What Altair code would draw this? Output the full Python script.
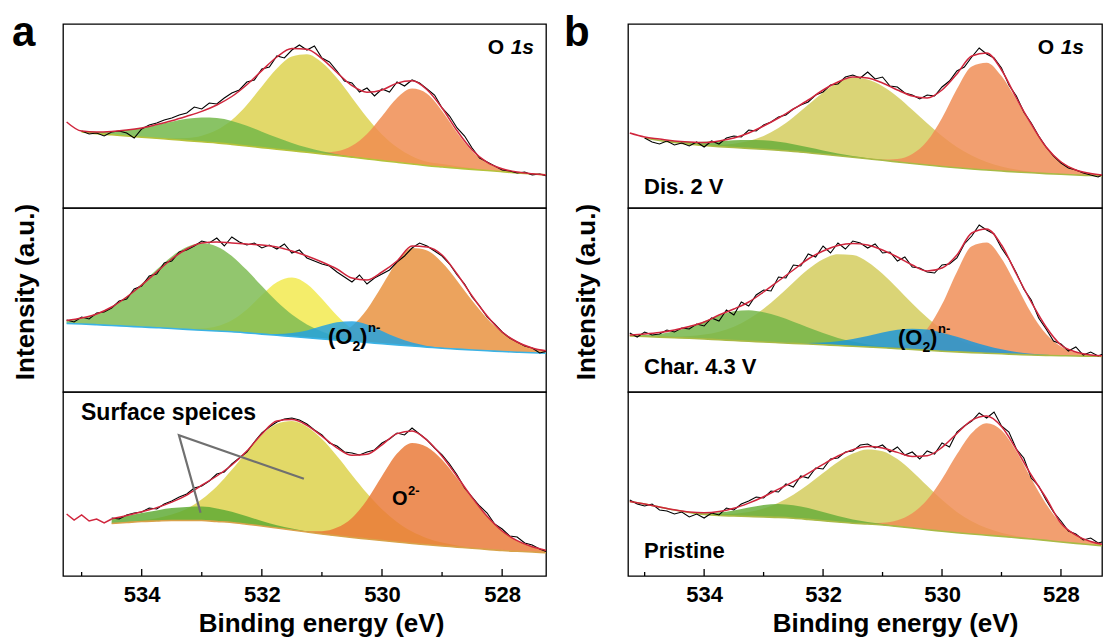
import altair as alt
import pandas as pd

FONT = "Liberation Sans"
H = 184
WA, WB = 483, 474
DOM_A = [527.27, 535.31]
DOM_B = [527.31, 535.28]

GRID = [535.25, 535.0, 534.75, 534.5, 534.25, 534.0, 533.75, 533.5, 533.25, 533.0,
        532.75, 532.5, 532.25, 532.0, 531.75, 531.5, 531.25, 531.0, 530.75, 530.5,
        530.25, 530.0, 529.75, 529.5, 529.25, 529.0, 528.75, 528.5, 528.25, 528.0,
        527.75, 527.5, 527.25]
RAW_GRID = [535.25, 535.125, 535.0, 534.875, 534.75, 534.625, 534.5, 534.375, 534.25, 534.125,
            534.0, 533.875, 533.75, 533.625, 533.5, 533.375, 533.25, 533.125, 533.0, 532.875,
            532.75, 532.625, 532.5, 532.375, 532.25, 532.125, 532.0, 531.875, 531.75, 531.625,
            531.5, 531.375, 531.25, 531.125, 531.0, 530.875, 530.75, 530.625, 530.5, 530.375,
            530.25, 530.125, 530.0, 529.875, 529.75, 529.625, 529.5, 529.375, 529.25, 529.125,
            529.0, 528.875, 528.75, 528.625, 528.5, 528.375, 528.25, 528.125, 528.0, 527.875,
            527.75, 527.625, 527.5, 527.375, 527.25]
TICK_MAJOR = [534, 532, 530, 528]
TICK_MINOR = [535, 533, 531, 529]

# ---------------- panel a, top ----------------
BASE_A1 = [86, 76, 74.3, 73.2, 72.0, 70.8, 69.7, 68.5, 67.4, 66.2, 65.1, 63.6, 62.0, 60.4, 58.8, 57.3, 55.7,
           54.1, 52.5, 50.8, 49.1, 47.4, 45.7, 44.0, 42.3, 41.0, 39.8, 38.6, 37.5, 36.3, 35.1, 34.0, 33.0]
ENV_A1 = [86, 76.9, 76.0, 76.6, 77.9, 80.0, 83.4, 87.2, 91.7, 96.6, 103.0, 111.5, 123.3, 137.4, 151.0, 159.4,
          158.8, 149.4, 135.5, 122.4, 115.8, 118.0, 124.9, 127.2, 118.3, 100.0, 77.2, 58.0, 45.7, 39.2, 35.9, 34.2, 33.0]
GREEN_A1 = [None, 0.9, 1.7, 3.4, 5.9, 9.1, 13.4, 17.8, 21.8, 24.3, 25.0, 23.5, 20.2, 15.9, 11.6, 7.8, 4.7, 2.7,
            1.3, 0.6, 0.3, 0, 0, 0, 0, 0, 0, 0, 0, 0, 0, 0, 0]
YELLOW_A1 = [None, 0, 0, 0, 0, 0.1, 0.3, 0.9, 2.5, 6.1, 12.9, 24.4, 41.1, 61.1, 80.6, 94.3, 98.0, 91.3, 77.4,
             59.5, 41.4, 26.2, 15.0, 7.8, 4.0, 3.0, 2.0, 1.2, 0.6, 0.3, 0.1, 0, 0]
ORANGE_A1 = [None, 0, 0, 0, 0, 0, 0, 0, 0, 0, 0, 0, 0, 0, 0, 0, 0.4, 1.3, 4.3, 11.5, 25.0, 44.4, 64.2, 75.4,
             72.0, 56.0, 35.4, 18.2, 7.6, 2.6, 0.7, 0.2, 0]
RAW_A1 = [77, 74, 75, 72, 76, 77, 75, 70, 79, 83, 85, 88, 90, 93, 95, 101, 99, 105, 104, 110,
          115, 118, 126, 128, 139, 141, 152, 150, 158, 163, 158, 162, 150, 146, 137, 127, 125, 116, 120, 112,
          119, 116, 126, 122, 128, 125, 119, 113, 100, 92, 80, 72, 60, 50, 46, 42, 38, 37, 35, 36, 33, 34, 32]

# ---------------- panel a, middle ----------------
BASE_A2 = [68.6, 68.0, 67.3, 66.5, 65.8, 65.0, 64.3, 63.5, 62.6, 61.8, 61.0, 60.2, 59.1, 57.9, 56.7, 55.5, 54.3,
           53.1, 51.9, 50.7, 49.5, 48.3, 47.1, 46.0, 44.9, 43.8, 42.9, 42.0, 41.2, 40.5, 39.8, 39.2, 38.7]
ENV_A2 = [71.5, 74, 78, 85, 95, 107, 120, 133, 143, 149, 150, 149, 148, 147, 145, 141, 136, 130, 123, 114,
          112, 120, 131, 146, 145, 137, 118, 96, 76, 60, 50, 44, 41]
GREEN_A2 = [2.9, 5.9, 11.0, 18.8, 29.7, 43.3, 58.2, 72.1, 82.4, 87.0, 84.6, 75.9, 62.8, 48.0, 33.8, 22.0, 13.2,
            7.3, 3.7, 1.7, 0.8, 0.3, 0, 0, 0, 0, 0, 0, 0, 0, 0, 0, 0]
YELLOW_A2 = [0, 0, 0, 0, 0, 0, 0, 0.2, 0.4, 1.6, 4.7, 11.6, 23.5, 39.0, 53.0, 59.0, 53.8, 40.2, 24.6, 12.4,
             5.1, 1.7, 0.5, 0, 0, 0, 0, 0, 0, 0, 0, 0, 0]
BLUE_A2 = [0, 0, 0, 0, 0, 0, 0, 0, 0, 0, 0, 0, 0, 0.4, 1.2, 3.4, 7.3, 12.8, 17.9, 20.0, 17.9, 12.8, 7.3, 3.4,
           1.2, 0.4, 0, 0, 0, 0, 0, 0, 0]
ORANGE_A2 = [0, 0, 0, 0, 0, 0, 0, 0, 0, 0, 0, 0, 0, 0, 0, 0, 0.5, 1.9, 5.9, 15.4, 33.0, 57.9, 83.2, 98.0, 96.7,
             85.6, 68.4, 49.4, 32.2, 18.9, 10.0, 4.8, 2.1]
RAW_A2 = [72, 70, 75, 73, 79, 80, 84, 91, 93, 103, 106, 116, 118, 129, 131, 140, 142, 146, 151, 149,
          154, 146, 155, 150, 147, 149, 144, 147, 143, 148, 139, 142, 134, 131, 128, 126, 120, 115, 110, 117,
          108, 114, 118, 122, 130, 136, 144, 149, 146, 141, 136, 128, 117, 108, 95, 86, 75, 68, 60, 54,
          50, 46, 44, 39, 41]

# ---------------- panel a, bottom ----------------
BASE_A3 = [62, 57, 53.5, 52.5, 53.5, 54.5, 55, 55.5, 55.5, 55.5, 54.5, 53.5, 51.8, 50, 48, 46, 44, 42, 40.2,
           38.5, 37, 35.5, 34, 32.5, 31.2, 30, 28.9, 27.8, 26.6, 25.5, 24.7, 24, 23.3]
ENV_A3 = [None, None, None, 57.2, 60.4, 64.2, 68.4, 73.9, 80.9, 90.8, 100, 111, 125, 142, 155, 156.4, 150.7,
          139.9, 128.2, 120.7, 121.8, 131.2, 142.4, 145, 135.7, 119.7, 99.5, 78.4, 59.7, 45, 35.3, 29.2, 25.6]
GREEN_A3 = [None, None, None, 4.5, 6.4, 8.5, 10.6, 12.4, 13.6, 14, 13.1, 10.8, 7.9, 5.0, 2.8, 1.4, 0.6, 0.2,
            0, 0, 0, 0, 0, 0, 0, 0, 0, 0, 0, 0, 0, 0, 0]
YELLOW_A3 = [None, None, None, 0.2, 0.5, 1.2, 2.8, 6.0, 11.8, 21.3, 35.1, 52.7, 72.5, 90.9, 104.2, 109, 105.3,
             94.9, 79.8, 62.6, 45.8, 31.3, 20, 11.9, 6.6, 3.4, 1.7, 0.7, 0.3, 0, 0, 0, 0]
ORANGE_A3 = [None, None, None, 0, 0, 0, 0, 0, 0, 0, 0, 0, 0, 0, 0, 0, 0.8, 2.8, 8.2, 19.6, 39.0, 64.4, 88.4,
             100.6, 97.9, 86.3, 68.9, 49.9, 32.8, 19.5, 10.6, 5.2, 2.3]
RAW_A3 = [58, 57, 61, 63, 64, 68, 67, 72, 75, 79, 82, 88, 90, 95, 102, 104, 112, 118, 124, 134,
          143, 149, 154, 157, 158, 156, 152, 146, 141, 133, 130, 124, 123, 121, 124, 126, 133, 137, 143, 141,
          148, 142, 136, 128, 121, 112, 101, 88, 79, 70, 63, 52, 47, 40, 39, 33, 31, 27, 24]
RAWRED_A3 = [62, 56, 61, 55, 57, 53, 57]
ANNOT_E = [533.02, 533.38, 531.30]
ANNOT_V = [63.3, 140.7, 97.3]

# ---------------- panel b, top ----------------
BASE_B1 = [75, 70, 67.5, 65.5, 63.8, 62.5, 61.4, 60.5, 59.6, 58.7, 57.7, 56.6, 55.2, 53.8, 52.3, 50.7, 49.2,
           47.7, 46.1, 44.5, 43, 41.5, 40.2, 39, 38, 37, 36, 35.2, 34.4, 33.7, 33, 32.5, 32]
ENV_B1 = [75, 71, 69, 67, 66, 65.5, 67, 70, 75, 82, 90, 99, 108, 118, 126, 131, 130, 125, 118, 112,
          110, 118, 134, 152, 155, 138, 110, 84, 61, 46, 38, 34.6, 32.6]
GREEN_B1 = [None, 0.3, 0.6, 1.2, 2.2, 3.7, 5.5, 7.2, 8.5, 9.0, 8.5, 7.2, 5.5, 3.7, 2.2, 1.2, 0.6, 0.3, 0.1,
            0, 0, 0, 0, 0, 0, 0, 0, 0, 0, 0, 0, 0, 0]
YELLOW_B1 = [None, 0, 0, 0.1, 0.3, 0.7, 1.7, 3.7, 7.3, 13.3, 22.2, 34.1, 48.0, 61.8, 73.1, 79.5, 79.2, 74.1,
             65.2, 53.8, 41.8, 30.5, 20.8, 13.4, 8.1, 4.6, 2.5, 1.2, 0.6, 0.3, 0, 0, 0]
ORANGE_B1 = [None, 0, 0, 0, 0, 0, 0, 0, 0, 0, 0, 0, 0, 0, 0, 0, 0.2, 0.8, 3.0, 9.5, 24.0, 48.6, 78.9, 102.6,
             107.2, 94.9, 72.5, 47.8, 27.2, 13.3, 5.6, 2.1, 0.6]
RAW_B1 = [70, 66, 64, 67, 63, 65, 62, 66, 61, 67, 64, 70, 72, 71, 78, 77, 83, 86, 91, 93,
          99, 103, 106, 113, 116, 123, 124, 131, 133, 130, 136, 129, 131, 122, 121, 115, 113, 109, 113, 112,
          121, 127, 137, 141, 151, 160, 154, 150, 140, 123, 112, 96, 85, 72, 61, 52, 45, 40, 38, 35, 33, 31, 35]

# ---------------- panel b, middle ----------------
BASE_B2 = [56, 55.5, 54.9, 54.3, 53.7, 53, 52.3, 51.5, 50.8, 50, 49.3, 48.6, 48, 47.3, 46.5, 45.8, 45, 44.2,
           43.4, 42.5, 41.7, 40.8, 40.1, 39.4, 38.8, 38.2, 37.6, 37, 36.6, 36.3, 36, 35.8, 35.6]
ENV_B2 = [57, 58, 59.5, 62, 65.5, 70, 77, 83, 90, 100, 111, 122, 133, 141, 146.5, 148.5, 147, 142, 135, 127,
          121, 124, 137, 159, 163, 147, 118, 90, 65, 47, 40, 37, 36]
GREEN_B2 = [0.6, 1.4, 3.2, 6.5, 11.4, 17.7, 24.3, 29.2, 31, 29.7, 26.4, 21.7, 16.6, 11.7, 7.6, 4.6, 2.6, 1.3,
            0.6, 0.3, 0, 0, 0, 0, 0, 0, 0, 0, 0, 0, 0, 0, 0]
YELLOW_B2 = [0, 0, 0.5, 1.0, 2.2, 4.4, 8.0, 13.8, 22.2, 33.2, 46.5, 61.0, 74.7, 85.4, 91.2, 91.1, 85.1, 74.1,
             60.4, 46.0, 32.7, 21.7, 13.5, 7.8, 4.3, 2.2, 1.0, 0.4, 0.2, 0, 0, 0, 0]
BLUE_B2 = [0, 0, 0, 0, 0, 0, 0, 0, 0, 0, 0.2, 0.4, 1.0, 2.2, 4.2, 7.2, 11.0, 15.2, 18.8, 20.8, 20.8, 18.5,
           15.1, 11.2, 7.5, 4.5, 2.5, 1.3, 0.6, 0.2, 0, 0, 0]
ORANGE_B2 = [0, 0, 0, 0, 0, 0, 0, 0, 0, 0, 0, 0, 0, 0, 0, 0, 0, 0.5, 2.1, 7.6, 21.4, 46.9, 80.0, 106.4, 110.7,
             95.4, 69.1, 42.0, 21.5, 9.3, 3.4, 1.0, 0.3]
RAW_B2 = [59, 55, 60, 57, 58, 62, 60, 64, 63, 68, 66, 74, 71, 82, 77, 90, 86, 97, 102, 101,
          115, 114, 127, 126, 138, 135, 146, 139, 149, 143, 151, 149, 144, 148, 139, 140, 131, 135, 125, 124,
          120, 119, 127, 128, 134, 148, 156, 167, 162, 158, 144, 133, 119, 103, 92, 74, 63, 51, 48, 41,
          45, 37, 40, 36, 39]

# ---------------- panel b, bottom ----------------
BASE_B3 = [74.5, 72, 69, 66, 63.5, 61.5, 60.5, 60, 59.5, 59, 58.6, 57.8, 56.6, 55.3, 54, 52.8, 52, 51, 49.6,
           48, 46.3, 44.8, 43.3, 42, 40.8, 39.6, 38.3, 37, 35.6, 34, 32.6, 31.3, 30]
ENV_B3 = [74.5, 72, 69, 66.2, 64, 63.2, 64.4, 67.7, 72.9, 79.3, 86.8, 94.3, 102.7, 111.6, 120, 126.4, 129.4,
          128, 123.6, 119.5, 120.2, 128.6, 142.5, 155.7, 159.9, 149.4, 126.6, 101, 78, 52.7, 40.9, 34.5, 31]
GREEN_B3 = [0, 0, 0, 0.2, 0.5, 1.3, 2.9, 5.5, 8.9, 11.9, 13.5, 13.0, 11.3, 8.7, 6.1, 3.8, 2.1, 1.0, 0.5, 0.2,
            0, 0, 0, 0, 0, 0, 0, 0, 0, 0, 0, 0, 0]
YELLOW_B3 = [0, 0, 0, 0, 0, 0.4, 1.0, 2.2, 4.5, 8.4, 14.7, 23.5, 34.8, 47.6, 59.9, 69.6, 74.6, 73.8, 67.3, 56.6,
             44.0, 31.5, 20.8, 12.7, 7.1, 3.7, 1.8, 0.8, 0.3, 0, 0, 0, 0]
ORANGE_B3 = [0, 0, 0, 0, 0, 0, 0, 0, 0, 0, 0, 0, 0, 0, 0, 0.2, 0.7, 2.2, 6.2, 14.7, 29.9, 52.3, 78.4, 101.0,
             112.0, 106.1, 86.5, 60.5, 36.4, 18.7, 8.3, 3.2, 1.0]
RAW_B3 = [76, 72, 70, 72, 66, 65, 62, 64, 59, 62, 58, 63, 61, 68, 66, 72, 75, 79, 78, 85,
          84, 92, 89, 100, 98, 108, 107, 117, 118, 124, 125, 131, 132, 128, 131, 124, 129, 121, 124, 117,
          125, 122, 133, 129, 144, 150, 155, 163, 158, 164, 150, 144, 127, 118, 98, 90, 76, 64, 55, 45,
          42, 36, 38, 33, 35]

RED = "#D0263D"


def comp_frame(base, vals):
    rows = [{"e": e, "lo": b, "hi": b + v} for e, b, v in zip(GRID, base, vals) if v is not None]
    return pd.DataFrame(rows)


def series_frame(xs, ys):
    return pd.DataFrame([{"e": e, "v": v} for e, v in zip(xs, ys) if v is not None])


def txt(s, x, y, size, align="left", style="normal", angle=0, baseline="alphabetic"):
    return alt.Chart(pd.DataFrame({"t": [s]})).mark_text(
        align=align, baseline=baseline, font=FONT, fontSize=size, fontWeight="bold",
        fontStyle=style, color="black", angle=angle
    ).encode(x=alt.value(x), y=alt.value(y), text="t:N")


def panel(width, dom, base, env, raw, comps, base_color, texts, bottom=False,
          title_x=0, extra_layers=None, raw_color="black"):
    if bottom:
        xaxis = alt.Axis(values=TICK_MAJOR, format="d", labelFont=FONT, labelFontSize=22,
                         labelFontWeight="bold", labelColor="black", labelPadding=8, ticks=False,
                         domain=False, grid=False, labelFlush=False, title="Binding energy (eV)",
                         titleFont=FONT, titleFontSize=26, titleFontWeight="bold", titleColor="black",
                         titleX=title_x, titleY=55, titleBaseline="alphabetic", titleAlign="center")
    else:
        xaxis = None
    X = alt.X("e:Q", scale=alt.Scale(domain=dom, reverse=True, nice=False, zero=False), axis=xaxis)
    ysc = alt.Scale(domain=[0, H], nice=False, zero=False)
    layers = []
    start = next(i for i, v in enumerate(comps[0][1]) if v is not None)
    for name, vals, color in comps:
        layers.append(
            alt.Chart(comp_frame(base, vals)).mark_area(
                interpolate="monotone", color=color, opacity=0.84, clip=True
            ).encode(x=X, y=alt.Y("lo:Q", scale=ysc, axis=None), y2="hi:Q")
        )
    layers.append(
        alt.Chart(series_frame(GRID[start:], base[start:])).mark_line(
            interpolate="monotone", color=base_color, strokeWidth=1.6, clip=True
        ).encode(x=X, y=alt.Y("v:Q", scale=ysc, axis=None))
    )
    layers.append(
        alt.Chart(series_frame(RAW_GRID[len(RAW_GRID) - len(raw):], raw)).mark_line(
            color=raw_color, strokeWidth=1.1, clip=True
        ).encode(x=X, y=alt.Y("v:Q", scale=ysc, axis=None))
    )
    layers.append(
        alt.Chart(series_frame(GRID, env)).mark_line(
            interpolate="monotone", color=RED, strokeWidth=1.5, clip=True
        ).encode(x=X, y=alt.Y("v:Q", scale=ysc, axis=None))
    )
    if extra_layers:
        for mk in extra_layers:
            layers.append(mk(X, ysc))
    if bottom:
        layers.append(
            alt.Chart(pd.DataFrame({"e": TICK_MAJOR})).mark_rule(color="black", strokeWidth=1.3).encode(
                x=X, y=alt.value(H), y2=alt.value(H - 7))
        )
        layers.append(
            alt.Chart(pd.DataFrame({"e": TICK_MINOR})).mark_rule(color="black", strokeWidth=1.3).encode(
                x=X, y=alt.value(H), y2=alt.value(H - 4))
        )
    layers.extend(texts)
    return alt.layer(*layers).properties(width=width, height=H)


def o1s(right):
    return [txt("O", right - 30, 30, 21, align="right"),
            txt("1s", right, 30, 21, align="right", style="italic")]


def o2n(x0, yb):
    return [txt("(O", x0, yb, 22), txt("2", x0 + 24.5, yb + 7, 14),
            txt(")", x0 + 32, yb, 22), txt("n-", x0 + 40, yb - 12, 13)]


anchor = alt.Chart(pd.DataFrame({"t": [0]})).mark_rule(opacity=0, strokeWidth=0.5).encode(
    x=alt.value(-62), x2=alt.value(-62), y=alt.value(-23), y2=alt.value(-23))


def annot_layer(X, ysc):
    df = pd.DataFrame({"e": ANNOT_E, "v": ANNOT_V, "k": [0, 1, 2]})
    return alt.Chart(df).mark_line(color="#707070", strokeWidth=2.2, clip=True).encode(
        x=X, y=alt.Y("v:Q", scale=ysc, axis=None), order="k:Q")


def redhead_layer(X, ysc):
    return alt.Chart(series_frame(RAW_GRID[:len(RAWRED_A3)], RAWRED_A3)).mark_line(
        color=RED, strokeWidth=1.5, clip=True).encode(x=X, y=alt.Y("v:Q", scale=ysc, axis=None))


YEL, ORA, GRN, BLU = "#DCD24E", "#EF8C50", "#72B848", "#22A2E0"

pA1 = panel(WA, DOM_A, BASE_A1, ENV_A1, RAW_A1,
            [("y", YELLOW_A1, YEL), ("o", ORANGE_A1, ORA), ("g", GREEN_A1, GRN)], "#B5C23A",
            [anchor, txt("a", -51, 22, 42)] + o1s(471))
pA2 = panel(WA, DOM_A, BASE_A2, ENV_A2, RAW_A2,
            [("y", YELLOW_A2, "#F2EA4E"), ("o", ORANGE_A2, "#E8913E"), ("g", GREEN_A2, "#7DBB52"),
             ("b", BLUE_A2, BLU)], "#3AB2E5",
            [txt("Intensity (a.u.)", -37, 84, 26, align="center", angle=270, baseline="middle")]
            + o2n(265, 136))
pA3 = panel(WA, DOM_A, BASE_A3, ENV_A3, RAW_A3,
            [("y", YELLOW_A3, "#DDD24A"), ("o", ORANGE_A3, "#E97A38"), ("g", GREEN_A3, "#5EAA35")],
            "#D9A24A",
            [txt("Surface speices", 18, 28, 23), txt("O", 329, 113, 20), txt("2-", 345, 103, 13)],
            bottom=True, title_x=258, extra_layers=[redhead_layer, annot_layer])

BY, BO = "#D3CC5C", "#F08D55"
pB1 = panel(WB, DOM_B, BASE_B1, ENV_B1, RAW_B1,
            [("y", YELLOW_B1, BY), ("o", ORANGE_B1, BO), ("g", GREEN_B1, "#69AE3A")], "#A9BA45",
            [txt("b", -64, 22, 42), txt("Dis. 2 V", 16, 170, 22)] + o1s(456))
pB2 = panel(WB, DOM_B, BASE_B2, ENV_B2, RAW_B2,
            [("y", YELLOW_B2, BY), ("o", ORANGE_B2, BO), ("g", GREEN_B2, "#74B548"),
             ("b", BLUE_B2, "#1D96D8")], "#A9BA45",
            [txt("Intensity (a.u.)", -41, 84, 26, align="center", angle=270, baseline="middle"),
             txt("Char. 4.3 V", 16, 166, 22)] + o2n(270, 137))
pB3 = panel(WB, DOM_B, BASE_B3, ENV_B3, RAW_B3,
            [("y", YELLOW_B3, BY), ("o", ORANGE_B3, BO), ("g", GREEN_B3, "#69AE3A")], "#A9BA45",
            [txt("Pristine", 16, 166, 22)], bottom=True, title_x=267)

chart = alt.concat(pA1, pB1, pA2, pB2, pA3, pB3, columns=2,
                   spacing={"row": 0, "column": 82}, bounds="flush").properties(
    padding=0, background="white"
).configure_view(stroke="black", strokeWidth=1.3)

chart.save("out.html", embed_options={"renderer": "svg", "actions": False})
